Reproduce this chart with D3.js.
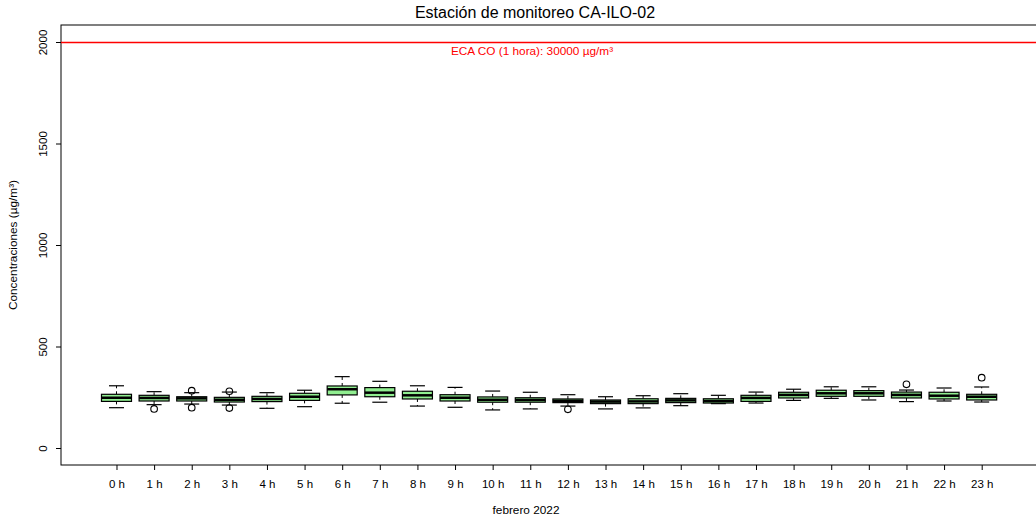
<!DOCTYPE html>
<html>
<head>
<meta charset="utf-8">
<script src="https://cdn.jsdelivr.net/npm/d3@7"></script>
<style>
  body { margin: 0; background: #fff; }
  text { font-family: "Liberation Sans", Arial, sans-serif; }
</style>
</head>
<body>
<div id="chart"></div>
<script>
// hourly CO boxplot stats
const hours = ["0 h","1 h","2 h","3 h","4 h","5 h","6 h","7 h","8 h","9 h","10 h","11 h",
               "12 h","13 h","14 h","15 h","16 h","17 h","18 h","19 h","20 h","21 h","22 h","23 h"];
const whiskLow = [201,216,219,214,198,206,223,228,209,203,190,195,209,195,200,211,221,224,237,247,239,231,234,229];
const q1       = [232,234,234,229,231,237,264,255,244,234,228,228,226,221,221,226,224,232,249,257,257,249,244,239];
const medians  = [250,249,247,240,244,255,292,275,262,250,240,239,235,231,232,237,234,249,264,272,272,264,260,255];
const q3       = [267,262,255,252,257,272,308,300,282,265,254,250,244,239,245,247,245,262,277,287,285,278,277,267];
const whiskHigh= [309,280,275,278,275,287,354,331,309,301,283,277,265,255,260,270,262,278,292,304,304,288,298,303];
const outliers = [[1,195],[2,285],[2,201],[3,282],[3,199],[12,193],[21,316],[23,349]];
const yTicks = [0, 500, 1000, 1500, 2000];
const ecaValue = 2000;

let dim = { width: 1036, height: 522 };
let svg = d3.select('#chart').append('svg').attr('width', dim.width).attr('height', dim.height);

let scaleX = d3.scaleLinear().domain([-1.475, 24.55]).range([61, 1040]);
let scaleY = d3.scaleLinear().domain([0, 2000]).range([448.5, 42.5]);
const plotTop = 25, plotBottom = 465, plotLeft = 61, plotRight = 1040;

// frame
svg.append('rect')
    .attr('x', plotLeft).attr('y', plotTop)
    .attr('width', plotRight - plotLeft).attr('height', plotBottom - plotTop)
    .attr('fill', 'none').attr('stroke', '#000').attr('stroke-width', 1);

// y axis, labels turned like R's las=0
let axisY = svg.append('g')
    .attr('transform', `translate(${plotLeft},0)`)
    .call(d3.axisLeft(scaleY).tickValues(yTicks).tickFormat(d3.format('d')).tickSize(5));
axisY.select('.domain').remove();
axisY.selectAll('.tick').attr('transform', null);
axisY.selectAll('.tick line').attr('y1', d => scaleY(d)).attr('y2', d => scaleY(d));
axisY.selectAll('.tick text')
    .attr('transform', 'rotate(-90)')
    .attr('x', d => -scaleY(d)).attr('y', -14)
    .attr('dy', null)
    .style('text-anchor', 'middle')
    .style('font-size', '11.5px')
    .attr('fill', '#000');

// x axis
let axisX = svg.append('g')
    .attr('transform', `translate(0,${plotBottom})`)
    .call(d3.axisBottom(scaleX).tickValues(d3.range(hours.length))
        .tickFormat(i => hours[i]).tickSize(5).tickPadding(10));
axisX.select('.domain').remove();
axisX.selectAll('text').style('font-size', '11.5px').attr('fill', '#000');

// ECA line
svg.append('line')
    .attr('x1', plotLeft).attr('x2', plotRight)
    .attr('y1', scaleY(ecaValue)).attr('y2', scaleY(ecaValue))
    .attr('stroke', 'red').attr('stroke-width', 1.5);
svg.append('text')
    .attr('x', 532).attr('y', scaleY(ecaValue) + 12.5)
    .attr('text-anchor', 'middle').attr('fill', 'red')
    .style('font-size', '11.8px')
    .text('ECA CO (1 hora): 30000 µg/m³');

// boxes
const boxW = 30, capW = 15;
let g = svg.append('g');
hours.forEach((h, i) => {
    let cx = scaleX(i);
    // whiskers
    g.append('line').attr('x1', cx).attr('x2', cx)
        .attr('y1', scaleY(q3[i])).attr('y2', scaleY(whiskHigh[i]))
        .attr('stroke', '#000').attr('stroke-dasharray', '3,3');
    g.append('line').attr('x1', cx).attr('x2', cx)
        .attr('y1', scaleY(q1[i])).attr('y2', scaleY(whiskLow[i]))
        .attr('stroke', '#000').attr('stroke-dasharray', '3,3');
    [whiskHigh[i], whiskLow[i]].forEach(v => {
        g.append('line').attr('x1', cx - capW / 2).attr('x2', cx + capW / 2)
            .attr('y1', scaleY(v)).attr('y2', scaleY(v))
            .attr('stroke', '#000').attr('stroke-width', 1.2);
    });
    g.append('rect')
        .attr('x', cx - boxW / 2).attr('y', scaleY(q3[i]))
        .attr('width', boxW).attr('height', scaleY(q1[i]) - scaleY(q3[i]))
        .attr('fill', '#90EE90').attr('stroke', '#000').attr('stroke-width', 1.2);
    g.append('line').attr('x1', cx - boxW / 2).attr('x2', cx + boxW / 2)
        .attr('y1', scaleY(medians[i])).attr('y2', scaleY(medians[i]))
        .attr('stroke', '#000').attr('stroke-width', 2.5);
});

g.selectAll('circle').data(outliers).enter().append('circle')
    .attr('cx', d => scaleX(d[0])).attr('cy', d => scaleY(d[1]))
    .attr('r', 3.3).attr('fill', 'none').attr('stroke', '#000').attr('stroke-width', 1.1);

// titles
svg.append('text').attr('x', 535).attr('y', 18).attr('text-anchor', 'middle')
    .style('font-size', '16px').text('Estación de monitoreo CA-ILO-02');
svg.append('text').attr('x', 526).attr('y', 514).attr('text-anchor', 'middle')
    .style('font-size', '11.8px').text('febrero 2022');
svg.append('text').attr('transform', 'translate(17,245) rotate(-90)')
    .attr('text-anchor', 'middle').style('font-size', '11.8px')
    .text('Concentraciones (µg/m³)');
</script>
</body>
</html>
